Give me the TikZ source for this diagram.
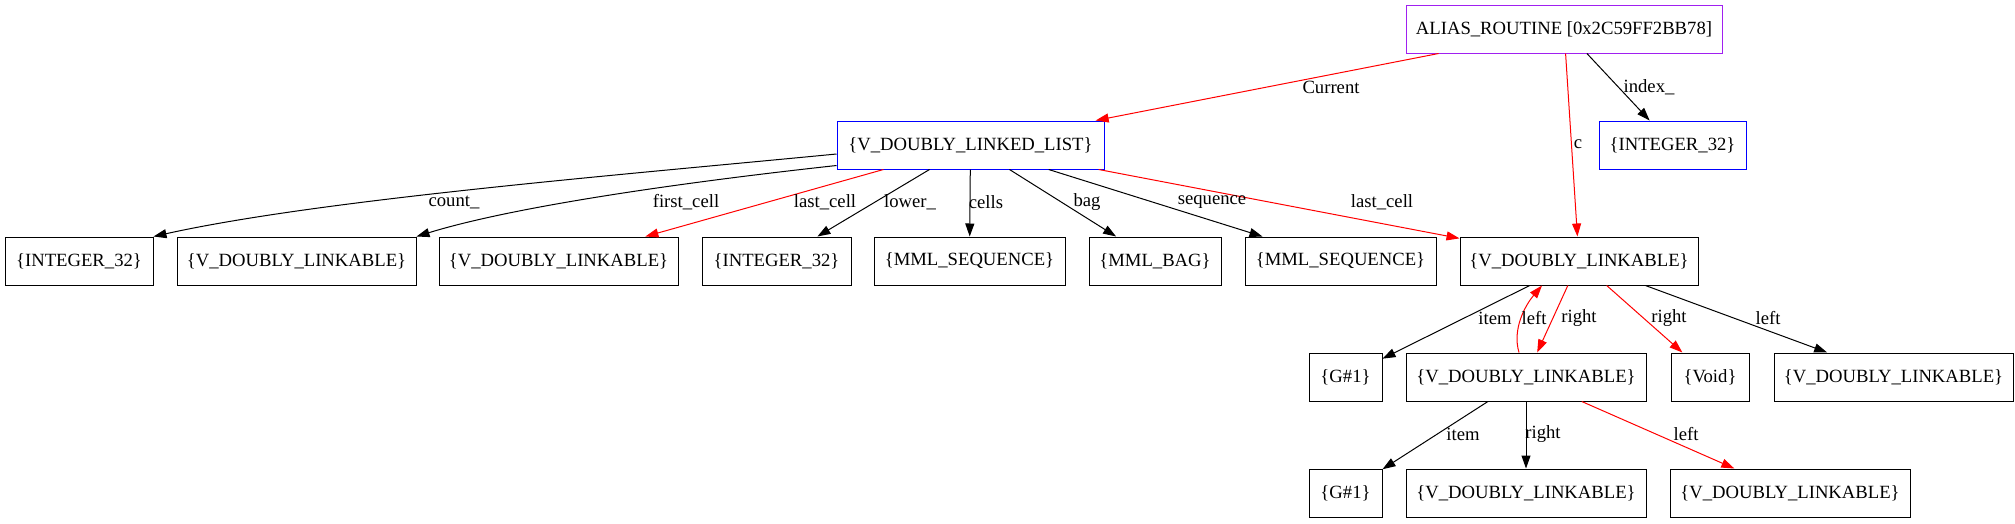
\documentclass[tikz,border=0pt]{standalone}
\usepackage{fontspec}
\setmainfont{Liberation Serif}
\usetikzlibrary{arrows.meta}
\definecolor{gvpurple}{RGB}{160,32,240}
\begin{document}
\begin{tikzpicture}[x=1pt,y=-1pt,
  box/.style={draw, line width=1pt, inner sep=0pt, minimum height=48pt, font=\fontsize{18.67}{22}\selectfont},
  bluebox/.style={box, draw=blue},
  purplebox/.style={box, draw=gvpurple},
  edge/.style={line width=1pt, -{Triangle[length=13pt,width=9pt]}},
  redge/.style={edge, draw=red},
  lbl/.style={inner sep=0pt, font=\fontsize{18.67}{22}\selectfont}]
\useasboundingbox (0,0) rectangle (2015,523);
% nodes
\node[purplebox, minimum width=316pt] (alias) at (1564,29) {ALIAS\_ROUTINE [0x2C59FF2BB78]};
\node[bluebox, minimum width=267pt] (dll) at (970.5,145) {\{V\_DOUBLY\_LINKED\_LIST\}};
\node[bluebox, minimum width=147pt] (intb) at (1672.5,145) {\{INTEGER\_32\}};
\node[box, minimum width=148pt] (r2a) at (79,261) {\{INTEGER\_32\}};
\node[box, minimum width=239pt] (r2b) at (296.5,261) {\{V\_DOUBLY\_LINKABLE\}};
\node[box, minimum width=239pt] (r2c) at (558.5,261) {\{V\_DOUBLY\_LINKABLE\}};
\node[box, minimum width=149pt] (r2d) at (776.5,261) {\{INTEGER\_32\}};
\node[box, minimum width=191pt] (r2e) at (969.5,261) {\{MML\_SEQUENCE\}};
\node[box, minimum width=132pt] (r2f) at (1155,261) {\{MML\_BAG\}};
\node[box, minimum width=191pt] (r2g) at (1340.5,261) {\{MML\_SEQUENCE\}};
\node[box, minimum width=238pt] (r2h) at (1579,261) {\{V\_DOUBLY\_LINKABLE\}};
\node[box, minimum width=73pt] (r3a) at (1345.5,377) {\{G\#1\}};
\node[box, minimum width=240pt] (r3b) at (1526,377) {\{V\_DOUBLY\_LINKABLE\}};
\node[box, minimum width=78pt] (r3c) at (1710,377) {\{Void\}};
\node[box, minimum width=239pt] (r3d) at (1893.5,377) {\{V\_DOUBLY\_LINKABLE\}};
\node[box, minimum width=73pt] (r4a) at (1345.5,493) {\{G\#1\}};
\node[box, minimum width=240pt] (r4b) at (1526,493) {\{V\_DOUBLY\_LINKABLE\}};
\node[box, minimum width=240pt] (r4c) at (1790,493) {\{V\_DOUBLY\_LINKABLE\}};
% edges from alias
\draw[redge] (alias) -- (dll);
\draw[redge] (alias) -- (r2h);
\draw[edge] (alias) -- (intb);
% edges from dll
\draw[edge] ([yshift=-9pt]dll.west) .. controls +(-217,21) and +(167,-37) .. (r2a.north east);
\draw[edge] ([yshift=4pt]dll.south west) .. controls +(-137,15) and +(104,-32) .. (r2b.north east);
\draw[redge] (dll) -- (r2c);
\draw[edge] (dll) -- (r2d);
\draw[edge] (dll) -- (r2e);
\draw[edge] (dll) -- (r2f);
\draw[edge] (dll) -- (r2g);
\draw[redge] (dll) -- (r2h);
% edges from r2h
\draw[edge] (r2h) -- (r3a);
\draw[redge] ([xshift=-7pt]r3b.north) .. controls +(-7,-23) and +(-17,20) .. ([xshift=-37pt]r2h.south);
\draw[redge] (r2h) -- (r3b);
\draw[redge] (r2h) -- (r3c);
\draw[edge] (r2h) -- (r3d);
% edges from r3b
\draw[edge] (r3b) -- (r4a);
\draw[edge] (r3b) -- (r4b);
\draw[redge] (r3b) -- (r4c);
% labels
\node[lbl] (lcur) at (1331,87) {Current};
\node[lbl] (lc) at (1578,144) {c};
\node[lbl] (lidx) at (1649,87) {index\_};
\node[lbl] (lcnt) at (454,202) {count\_};
\node[lbl] (lfc) at (686,202) {first\_cell};
\node[lbl] (llc1) at (825,202) {last\_cell};
\node[lbl] (llow) at (910,202) {lower\_};
\node[lbl] (lcel) at (986,202) {cells};
\node[lbl] (lbag) at (1087,202) {bag};
\node[lbl] (lseq) at (1212,202) {sequence};
\node[lbl] (llc2) at (1382,202) {last\_cell};
\node[lbl] (lit1) at (1495,318) {item};
\node[lbl] (llf1) at (1534,318) {left};
\node[lbl] (lrt1) at (1579,318) {right};
\node[lbl] (lrt2) at (1669,318) {right};
\node[lbl] (llf2) at (1768,318) {left};
\node[lbl] (lit2) at (1463,434) {item};
\node[lbl] (lrt3) at (1543,434) {right};
\node[lbl] (llf3) at (1686,434) {left};
\end{tikzpicture}
\end{document}
